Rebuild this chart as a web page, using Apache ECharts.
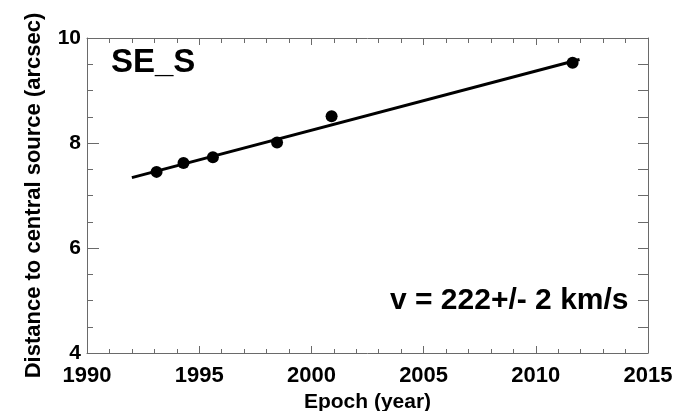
<!DOCTYPE html>
<html>
<head>
<meta charset="utf-8">
<script src="https://cdn.jsdelivr.net/npm/echarts@6/dist/echarts.min.js"></script>
<style>
  html, body { margin: 0; padding: 0; background: #fff; }
  #chart { width: 679px; height: 411px; }
</style>
</head>
<body>
<div id="chart"></div>
<script>
// Measured positions of the SE_S knot
const epochs = [1993.10, 1994.30, 1995.61, 1998.47, 2000.90, 2011.64];
const distances = [7.45, 7.62, 7.73, 8.01, 8.51, 9.53];

// Linear proper-motion fit, drawn between its end epochs
const fitEpochs = [1992.0, 2011.95];
const fitDistances = [7.34, 9.59];

const xTicks = [1990, 1995, 2000, 2005, 2010, 2015];
const yTicks = [4, 6, 8, 10];

const panelLabel = 'SE_S';
const velocityLabel = 'v = 222+/- 2 km/s';

const FONT = '"Liberation Sans", Arial, Helvetica, sans-serif';
const AXIS_COLOR = '#6a6a6a';

const chart = echarts.init(document.getElementById('chart'), null, { renderer: 'canvas' });

function frameAxis(extra) {
  return Object.assign({
    type: 'value',
    axisLine: { show: true, lineStyle: { color: AXIS_COLOR, width: 1 } },
    axisTick: { show: true, inside: true, length: 7, lineStyle: { color: AXIS_COLOR, width: 1 } },
    minorTick: { show: true, splitNumber: 5, length: 4, lineStyle: { color: AXIS_COLOR, width: 1 } },
    splitLine: { show: false },
    axisLabel: { show: false }
  }, extra);
}

const xMin = xTicks[0], xMax = xTicks[xTicks.length - 1];
const yMin = yTicks[0], yMax = yTicks[yTicks.length - 1];
const plain = v => String(v);

chart.setOption({
  animation: false,
  backgroundColor: '#ffffff',
  grid: { left: 87, right: 31, top: 38, bottom: 58, containLabel: false, outerBoundsMode: 'none' },
  xAxis: [
    frameAxis({
      position: 'bottom', min: xMin, max: xMax, interval: 5,
      name: 'Epoch (year)', nameLocation: 'middle', nameGap: 33,
      nameTextStyle: { fontFamily: FONT, fontWeight: 'bold', fontSize: 21, color: '#000' },
      axisLabel: {
        show: true, margin: 12, fontFamily: FONT, fontWeight: 'bold', fontSize: 22, color: '#000',
        formatter: plain
      }
    }),
    frameAxis({ position: 'top', min: xMin, max: xMax, interval: 5,
      axisTick: { show: true, inside: true, length: 7, lineStyle: { color: AXIS_COLOR } },
      minorTick: { show: true, splitNumber: 5, length: 5, lineStyle: { color: AXIS_COLOR } } })
  ],
  yAxis: [
    frameAxis({
      position: 'left', min: yMin, max: yMax, interval: 2,
      axisTick: { show: true, inside: true, length: 12, lineStyle: { color: AXIS_COLOR } },
      minorTick: { show: true, splitNumber: 4, length: 6, lineStyle: { color: AXIS_COLOR } },
      name: 'Distance to central source (arcsec)', nameLocation: 'middle', nameGap: 42,
      nameTextStyle: { fontFamily: FONT, fontWeight: 'bold', fontSize: 22, color: '#000' },
      axisLabel: { show: true, margin: 6, fontFamily: FONT, fontWeight: 'bold', fontSize: 21, color: '#000',
        formatter: plain }
    }),
    frameAxis({
      position: 'right', min: yMin, max: yMax, interval: 2,
      axisTick: { show: true, inside: true, length: 10, lineStyle: { color: AXIS_COLOR } },
      minorTick: { show: true, splitNumber: 4, length: 10, lineStyle: { color: AXIS_COLOR } }
    })
  ],
  series: [
    {
      type: 'line',
      data: fitEpochs.map((e, i) => [e, fitDistances[i]]),
      showSymbol: false,
      lineStyle: { color: '#000', width: 3 },
      z: 2
    },
    {
      type: 'scatter',
      data: epochs.map((e, i) => [e, distances[i]]),
      symbol: 'circle',
      symbolSize: 12,
      itemStyle: { color: '#000', opacity: 1 },
      z: 3
    }
  ],
  graphic: [
    {
      type: 'text', left: 111, top: 46,
      style: { text: panelLabel, fontFamily: FONT, fontWeight: 'bold', fontSize: 33, fill: '#000' }
    },
    {
      type: 'text', left: 390, top: 286,
      style: { text: velocityLabel, fontFamily: FONT, fontWeight: 'bold', fontSize: 30, fill: '#000' }
    }
  ]
});
</script>
</body>
</html>
